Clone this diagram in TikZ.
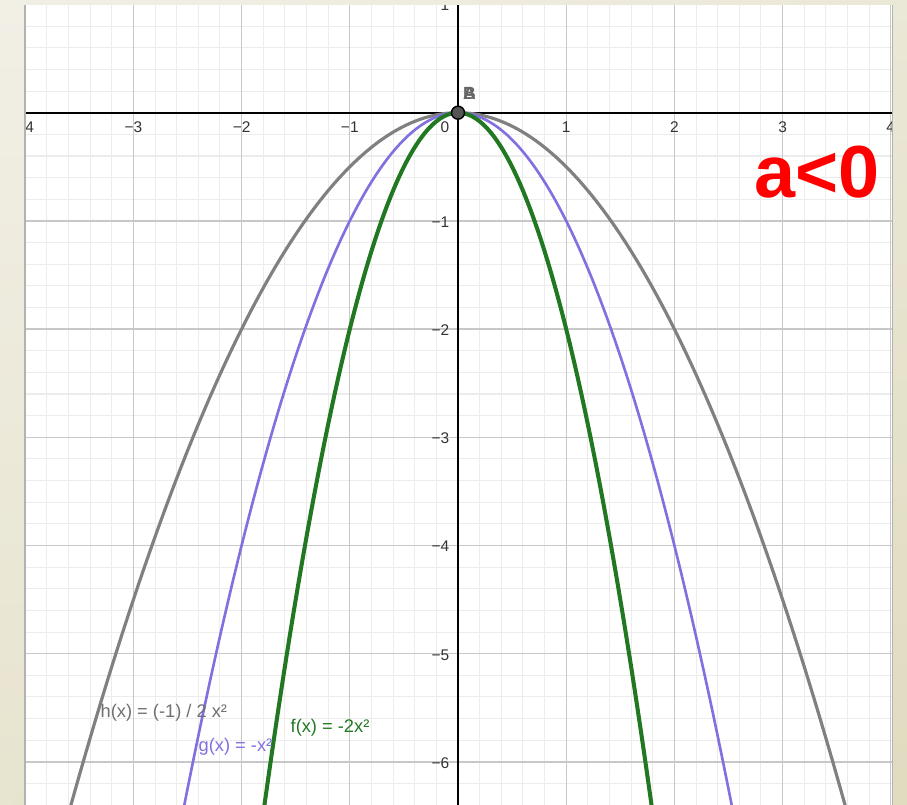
\documentclass[tikz,border=0pt]{standalone}
\usepackage{fontspec}
\setmainfont{Liberation Sans}
\definecolor{beigeL}{RGB}{242,240,230}
\definecolor{beigeD}{RGB}{224,220,192}
\definecolor{minorg}{RGB}{236,236,236}
\definecolor{majorg}{RGB}{200,200,200}
\definecolor{hcol}{RGB}{128,128,128}
\definecolor{hlabcol}{RGB}{112,112,112}
\definecolor{gcol}{RGB}{128,112,224}
\definecolor{fcol}{RGB}{34,120,34}
\definecolor{ptcol}{RGB}{85,85,85}
\begin{document}
\begin{tikzpicture}[x=1.082cm,y=1.082cm,
  ticklab/.style={font=\fontsize{4.4}{4.4}\selectfont, text=black!80, inner sep=0},
  funlab/.style={font=\fontsize{5.2}{5.2}\selectfont, inner sep=0, anchor=west},
  curve/.style={line join=round, line cap=round},
  ptlab/.style={font=\fontsize{5}{5}\selectfont\bfseries, text=black!60, inner sep=0},
]
\useasboundingbox (-4.233,-6.398) rectangle (4.150,1.0416);
\shade[left color=beigeL, right color=beigeD] (-4.233,-6.398) rectangle (4.150,1.0416);
\shade[top color=beigeL, bottom color=beigeD, opacity=0.6] (-4.233,-6.398) rectangle (4.150,1.0416);
\fill[white] (-4.01,-6.4) rectangle (4.02,0.995);
\begin{scope}
\clip (-4.01,-6.4) rectangle (4.02,0.995);
\draw[minorg, line width=0.3pt] (-4.4,-6.6) grid[step=0.2] (4.4,1.2);
\draw[majorg, line width=0.35pt] (-5,-7) grid[step=1] (5,2);
\draw[black, line width=0.5pt] (-4.1,0) -- (4.1,0);
\draw[black, line width=0.5pt] (0,-6.5) -- (0,1.1);
% tick labels
\foreach \v/\t in {-4/{−4},-3/{−3},-2/{−2},-1/{−1},1/1,2/2,3/3,4/4}
  \node[ticklab] (xl\v) at (\v,-0.132) {\t};
\node[ticklab] (xl0) at (-0.12,-0.132) {0};
\foreach \v/\t in {1/1,-1/{−1},-2/{−2},-3/{−3},-4/{−4},-5/{−5},-6/{−6}}
  \node[ticklab, anchor=east] (yl\v) at (-0.075,\v-0.01) {\t};
% curves
\draw[curve, hcol, line width=0.9pt] plot[domain=-4.1:4.1, samples=200] (\x,{-0.5*\x*\x});
\draw[curve, gcol, line width=0.75pt] plot[domain=-2.6:2.6, samples=200] (\x,{-\x*\x});
\draw[curve, fcol, line width=1.15pt] plot[domain=-1.85:1.85, samples=200] (\x,{-2*\x*\x});
% labels
\node[funlab, text=hlabcol] (hlab) at (-3.309,-5.548) {h(x) = (-1) / 2 x²};
\node[funlab, text=gcol] (glab) at (-2.403,-5.862) {g(x) = -x²};
\node[funlab, text=fcol] (flab) at (-1.553,-5.687) {f(x) = -2x²};
\end{scope}
% point
\node[circle, fill=ptcol, draw=black, line width=0.4pt, minimum size=0.13cm, inner sep=0] (O) at (0,0) {};
\node[ptlab] (Alab) at (0.105,0.175) {A};
\node[ptlab] (Blab) at (0.105,0.175) {B};
% a<0
\node[font=\fontsize{21}{21}\selectfont\bfseries, text=red, inner sep=0] (alab) at (3.318,-0.548) {a<0};
% borders
\draw[black!30, line width=0.5pt] (-4.005,-6.4) -- (-4.005,0.995);
\draw[black!30, line width=0.5pt] (4.015,-6.4) -- (4.015,0.995);
\end{tikzpicture}
\end{document}
